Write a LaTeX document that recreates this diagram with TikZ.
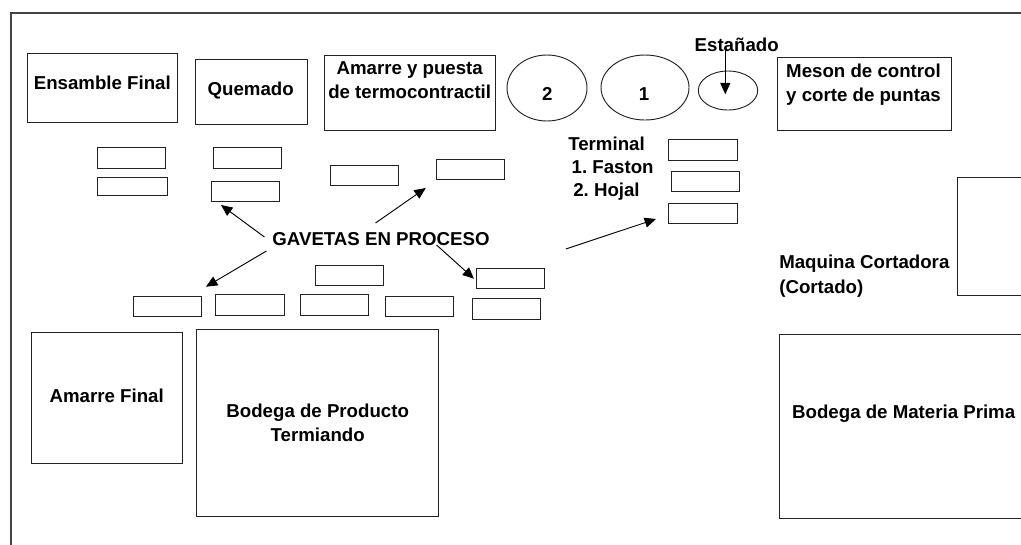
\documentclass[tikz,border=0pt]{standalone}
\usepackage{fontspec}
\setmainfont{Liberation Sans}
\usetikzlibrary{arrows.meta,calc,shapes.geometric}
\definecolor{ink}{HTML}{222222}
\definecolor{framecol}{HTML}{444444}
\frenchspacing
\tikzset{
  x=0.75pt,y=-0.75pt,
  boxst/.style={draw=ink,line width=0.75pt,inner sep=0pt,outer sep=0pt,rectangle},
  ovalst/.style={draw=ink,line width=0.7pt,inner sep=0pt,outer sep=0pt,ellipse},
  framest/.style={draw=framecol,line width=1.3pt,inner sep=0pt,outer sep=0pt,rectangle},
  lab/.style={font=\fontsize{14}{18}\selectfont\bfseries,text=black,inner sep=0pt,outer sep=0pt,anchor=base},
  labl/.style={lab,anchor=base west},
  multi/.style={font=\fontsize{14}{18}\selectfont\bfseries,text=black,inner sep=0pt,outer sep=0pt,align=center,anchor=center},
  arr/.style={draw=black,line width=0.7pt,-{Triangle[length=8.5pt,width=7.5pt]}},
}
\newcommand{\bx}[6][boxst]{%
  \pgfmathsetmacro{\bxcx}{(#3+#5)/2}\pgfmathsetmacro{\bxcy}{(#4+#6)/2}%
  \pgfmathsetmacro{\bxw}{(#5-#3)*0.75}\pgfmathsetmacro{\bxh}{(#6-#4)*0.75}%
  \node[#1,minimum width=\bxw pt,minimum height=\bxh pt] (#2) at (\bxcx,\bxcy) {};}
\begin{document}
\begin{tikzpicture}
\useasboundingbox (0,0) rectangle (1021,544);
\clip (0,0) rectangle (1021,544);
\bx[framest]{frame}{11}{13}{1100}{600}
% large boxes
\bx{ensamble}{27.5}{53}{177.5}{122}
\bx{quemado}{195}{59}{307}{124}
\bx{amarre}{324}{55}{495}{130}
\bx{meson}{777}{57}{951}{130}
\bx{maquina}{957}{177.7}{1060}{295}
\bx{amfinal}{31.5}{332.5}{182}{463.5}
\bx{bodprod}{196.7}{329.7}{438.3}{516.3}
\bx{bodmat}{779.3}{334.3}{1060}{518}
% ellipses
\bx[ovalst]{two}{507}{55}{587}{121}
\bx[ovalst]{one}{601}{55}{689}{120}
\bx[ovalst]{est}{698.3}{71}{757.7}{110}
% small drawers
\bx{ga}{97}{147.5}{165.5}{168}
\bx{gb}{97}{177.5}{167.5}{195.5}
\bx{gc}{213.5}{147.5}{281.5}{168}
\bx{gd}{211.5}{181.5}{279.5}{201.5}
\bx{ge}{330}{165.5}{398}{185.5}
\bx{gf}{436}{159.5}{504}{179.5}
\bx{gg}{315.3}{265}{383.3}{285}
\bx{gh}{476.3}{268}{544.3}{288.7}
\bx{gi}{472}{298.7}{540.3}{319}
\bx{gj}{133}{296.3}{201.3}{316.7}
\bx{gk}{215.5}{294.7}{284}{315}
\bx{gl}{300.3}{294.7}{368.7}{315}
\bx{gm}{385}{296.3}{453.3}{316.7}
\bx{ta}{668.7}{139.7}{737}{160}
\bx{tb}{671}{171.5}{739.3}{191.5}
\bx{tc}{668.7}{203}{737}{223}
% labels
\node[lab] (lensamble) at (102.3,89.5) {Ensamble Final};
\node[lab] (lquemado) at (250.7,95) {Quemado};
\node[multi] (lamarre) at (409.7,82) {\strut Amarre y puesta\\\strut de termocontractil};
\node[lab] (ltwo) at (547.3,100.7) {2};
\node[lab] (lone) at (644,100.7) {1};
\node[lab] (lest) at (736.7,51) {Estañado};
\node[multi] (lmeson) at (863.5,84.5) {\strut Meson de control\\\strut y corte de puntas};
\node[labl] (lt) at (568.3,150) {Terminal};
\node[labl] (lf) at (571.7,173.3) {1. Faston};
\node[labl] (lh) at (573.3,196.7) {2. Hojal};
\node[labl] (lmaq) at (779.3,268.7) {Maquina Cortadora};
\node[labl] (lcor) at (779.3,293) {(Cortado)};
\node[lab] (lamf) at (106.7,402.7) {Amarre Final};
\node[multi] (lprod) at (317.7,424.7) {\strut Bodega de Producto\\\strut Termiando};
\node[lab] (lmat) at (903.7,418.7) {Bodega de Materia Prima};
\node[lab] (gav) at (381,245) {GAVETAS EN PROCESO};
% connectors
\draw[arr] ($(gav.base west)+(-8,-8)$) -- ($(gd.south west)+(9.5,3.5)$);
\draw[arr] ($(gav.base east)+(-114,-22)$) -- ($(gf.south west)+(-10.3,8.5)$);
\draw[arr] ($(gav.base west)+(-6,6)$) -- ($(gj.north east)+(4.7,-9.6)$);
\draw[arr] ($(gav.base east)+(-53,0)$) -- ($(gh.north west)+(-2.3,10.7)$);
\draw[arr] ($(gav.base east)+(76.3,4)$) -- ($(tc.south west)+(-12.7,-4)$);
\draw[arr] ($(lest.base)+(-11.4,-4)$) -- ($(est.center)+(-2.7,3.8)$);
\end{tikzpicture}
\end{document}
